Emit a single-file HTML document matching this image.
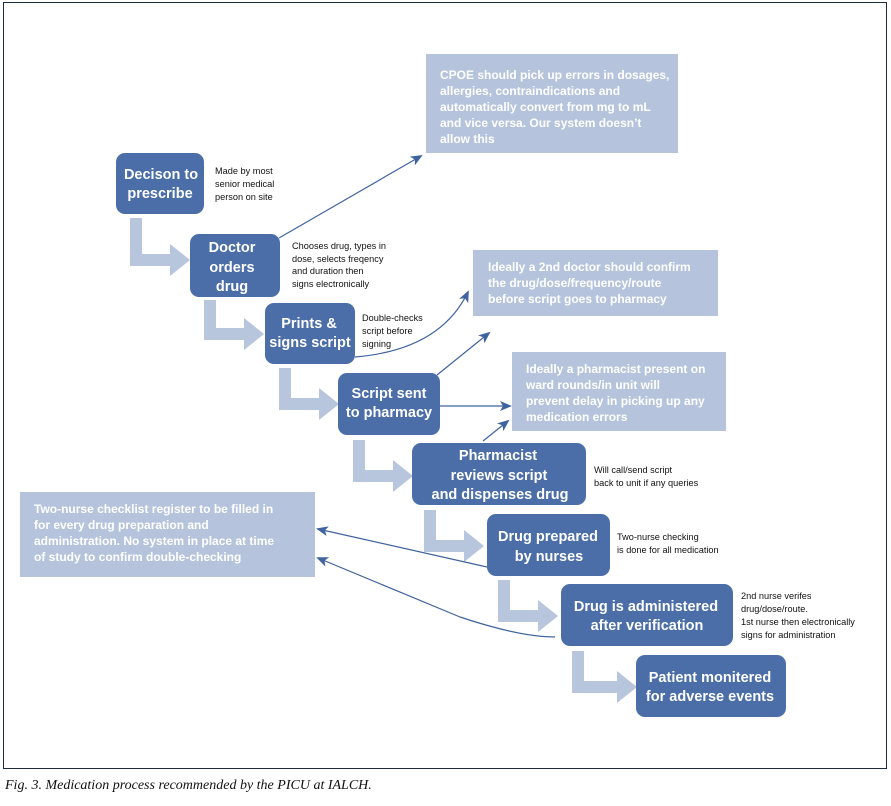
<!DOCTYPE html>
<html><head><meta charset="utf-8"><style>
html,body{margin:0;padding:0;background:#fff;width:891px;height:806px;overflow:hidden}
svg{display:block}
.dk{fill:#4b6ea8}
.lt{fill:#b5c4dc}
.bt{font-family:"Liberation Sans",sans-serif;font-weight:bold;font-size:14.5px;fill:#fff;text-anchor:middle}
.lb{font-family:"Liberation Sans",sans-serif;font-weight:bold;font-size:12px;fill:#fff}
.nt{font-family:"Liberation Sans",sans-serif;font-size:9.2px;fill:#111}
.ln{stroke:#3f639e;stroke-width:1.2;fill:none}
.ar{fill:#b7c5dd}
</style></head><body>
<svg width="891" height="806" viewBox="0 0 891 806">
<defs><marker id="m" markerWidth="12" markerHeight="10" refX="10" refY="5" orient="auto" markerUnits="userSpaceOnUse"><path d="M0,0 L12,5 L0,10 L3,5 Z" fill="#3f639e"/></marker></defs>
<rect x="3.5" y="2.5" width="883" height="766" fill="none" stroke="#1d2b3a" stroke-width="1"/>

<rect class="lt" x="426" y="54" width="252" height="99"/>
<text class="lb"><tspan x="440" y="79">CPOE should pick up errors in dosages,</tspan><tspan x="440" y="95">allergies, contraindications and</tspan><tspan x="440" y="111">automatically convert from mg to mL</tspan><tspan x="440" y="127">and vice versa. Our system doesn’t</tspan><tspan x="440" y="143">allow this</tspan></text>
<rect class="lt" x="473" y="250" width="245" height="66"/>
<text class="lb"><tspan x="488" y="271">Ideally a 2nd doctor should confirm</tspan><tspan x="488" y="287">the drug/dose/frequency/route</tspan><tspan x="488" y="303">before script goes to pharmacy</tspan></text>
<rect class="lt" x="512" y="352" width="214" height="79"/>
<text class="lb"><tspan x="526" y="373">Ideally a pharmacist present on</tspan><tspan x="526" y="389">ward rounds/in unit will</tspan><tspan x="526" y="405">prevent delay in picking up any</tspan><tspan x="526" y="421">medication errors</tspan></text>
<rect class="lt" x="20" y="492" width="295" height="85"/>
<text class="lb"><tspan x="34" y="513">Two-nurse checklist register to be filled in</tspan><tspan x="34" y="529">for every drug preparation and</tspan><tspan x="34" y="545">administration. No system in place at time</tspan><tspan x="34" y="561">of study to confirm double-checking</tspan></text>

<g class="ar">
<path d="M130,218 h12 v36 h28 v-10 l20,16 l-20,16 v-10 h-40 z"/>
<path d="M204,300 h12 v28 h28 v-10 l20,16 l-20,16 v-10 h-40 z"/>
<path d="M279,368 h12 v30 h28 v-10 l20,16 l-20,16 v-10 h-40 z"/>
<path d="M353,440 h12 v30 h28 v-10 l20,16 l-20,16 v-10 h-40 z"/>
<path d="M424,510 h12 v30 h28 v-10 l20,16 l-20,16 v-10 h-40 z"/>
<path d="M498,580 h12 v30 h28 v-10 l20,16 l-20,16 v-10 h-40 z"/>
<path d="M572,651 h12 v30 h33 v-10 l20,16 l-20,16 v-10 h-45 z"/>
</g>

<path class="ln" marker-end="url(#m)" d="M279,238 L421,156"/>
<path class="ln" marker-end="url(#m)" d="M355,357 Q440,350 468,292"/>
<path class="ln" marker-end="url(#m)" d="M437,375 L489,333"/>
<path class="ln" marker-end="url(#m)" d="M440,406 L510,406"/>
<path class="ln" marker-end="url(#m)" d="M483,441 L508,421"/>
<path class="ln" marker-end="url(#m)" d="M487,567 L318,529"/>
<path class="ln" marker-end="url(#m)" d="M555,637 Q520,637 460,617 L318,558"/>

<rect class="dk" x="116" y="153" width="88" height="61" rx="9"/>
<text class="bt"><tspan x="161" y="179">Decison to</tspan><tspan x="160" y="198">prescribe</tspan></text>
<rect class="dk" x="190" y="234" width="90" height="63" rx="9"/>
<text class="bt"><tspan x="232" y="252">Doctor</tspan><tspan x="232" y="272">orders</tspan><tspan x="232" y="291">drug</tspan></text>
<rect class="dk" x="265" y="303" width="90" height="61" rx="9"/>
<text class="bt"><tspan x="309" y="328">Prints &amp;</tspan><tspan x="310" y="347">signs script</tspan></text>
<rect class="dk" x="338" y="373" width="102" height="62" rx="9"/>
<text class="bt"><tspan x="389" y="398">Script sent</tspan><tspan x="389" y="417">to pharmacy</tspan></text>
<rect class="dk" x="412" y="443" width="174" height="62" rx="9"/>
<text class="bt"><tspan x="498" y="460">Pharmacist</tspan><tspan x="499" y="480">reviews script</tspan><tspan x="500" y="499">and dispenses drug</tspan></text>
<rect class="dk" x="487" y="514" width="123" height="62" rx="9"/>
<text class="bt"><tspan x="548" y="541">Drug prepared</tspan><tspan x="549" y="561">by nurses</tspan></text>
<rect class="dk" x="561" y="584" width="172" height="62" rx="9"/>
<text class="bt"><tspan x="646" y="611">Drug is administered</tspan><tspan x="647" y="630">after  verification</tspan></text>
<rect class="dk" x="636" y="655" width="150" height="62" rx="9"/>
<text class="bt"><tspan x="710" y="682">Patient monitered</tspan><tspan x="710" y="701">for adverse events</tspan></text>

<text class="nt"><tspan x="215" y="174">Made by most</tspan><tspan x="215" y="187">senior medical</tspan><tspan x="215" y="200">person on site</tspan></text>
<text class="nt"><tspan x="292" y="249">Chooses drug, types in</tspan><tspan x="292" y="262">dose, selects freqency</tspan><tspan x="292" y="274">and duration then</tspan><tspan x="292" y="287">signs electronically</tspan></text>
<text class="nt"><tspan x="362" y="321">Double-checks</tspan><tspan x="362" y="334">script before</tspan><tspan x="362" y="347">signing</tspan></text>
<text class="nt"><tspan x="594" y="473">Will call/send script</tspan><tspan x="594" y="486">back to unit if any queries</tspan></text>
<text class="nt"><tspan x="617" y="540">Two-nurse checking</tspan><tspan x="617" y="553">is done for all medication</tspan></text>
<text class="nt"><tspan x="741" y="599">2nd nurse verifes</tspan><tspan x="741" y="612">drug/dose/route.</tspan><tspan x="741" y="625">1st nurse then electronically</tspan><tspan x="741" y="638">signs for administration</tspan></text>

<text x="5" y="789" style="font-family:'Liberation Serif',serif;font-style:italic;font-size:14px;fill:#111">Fig. 3. Medication process recommended by the PICU at IALCH.</text>
</svg>
</body></html>
